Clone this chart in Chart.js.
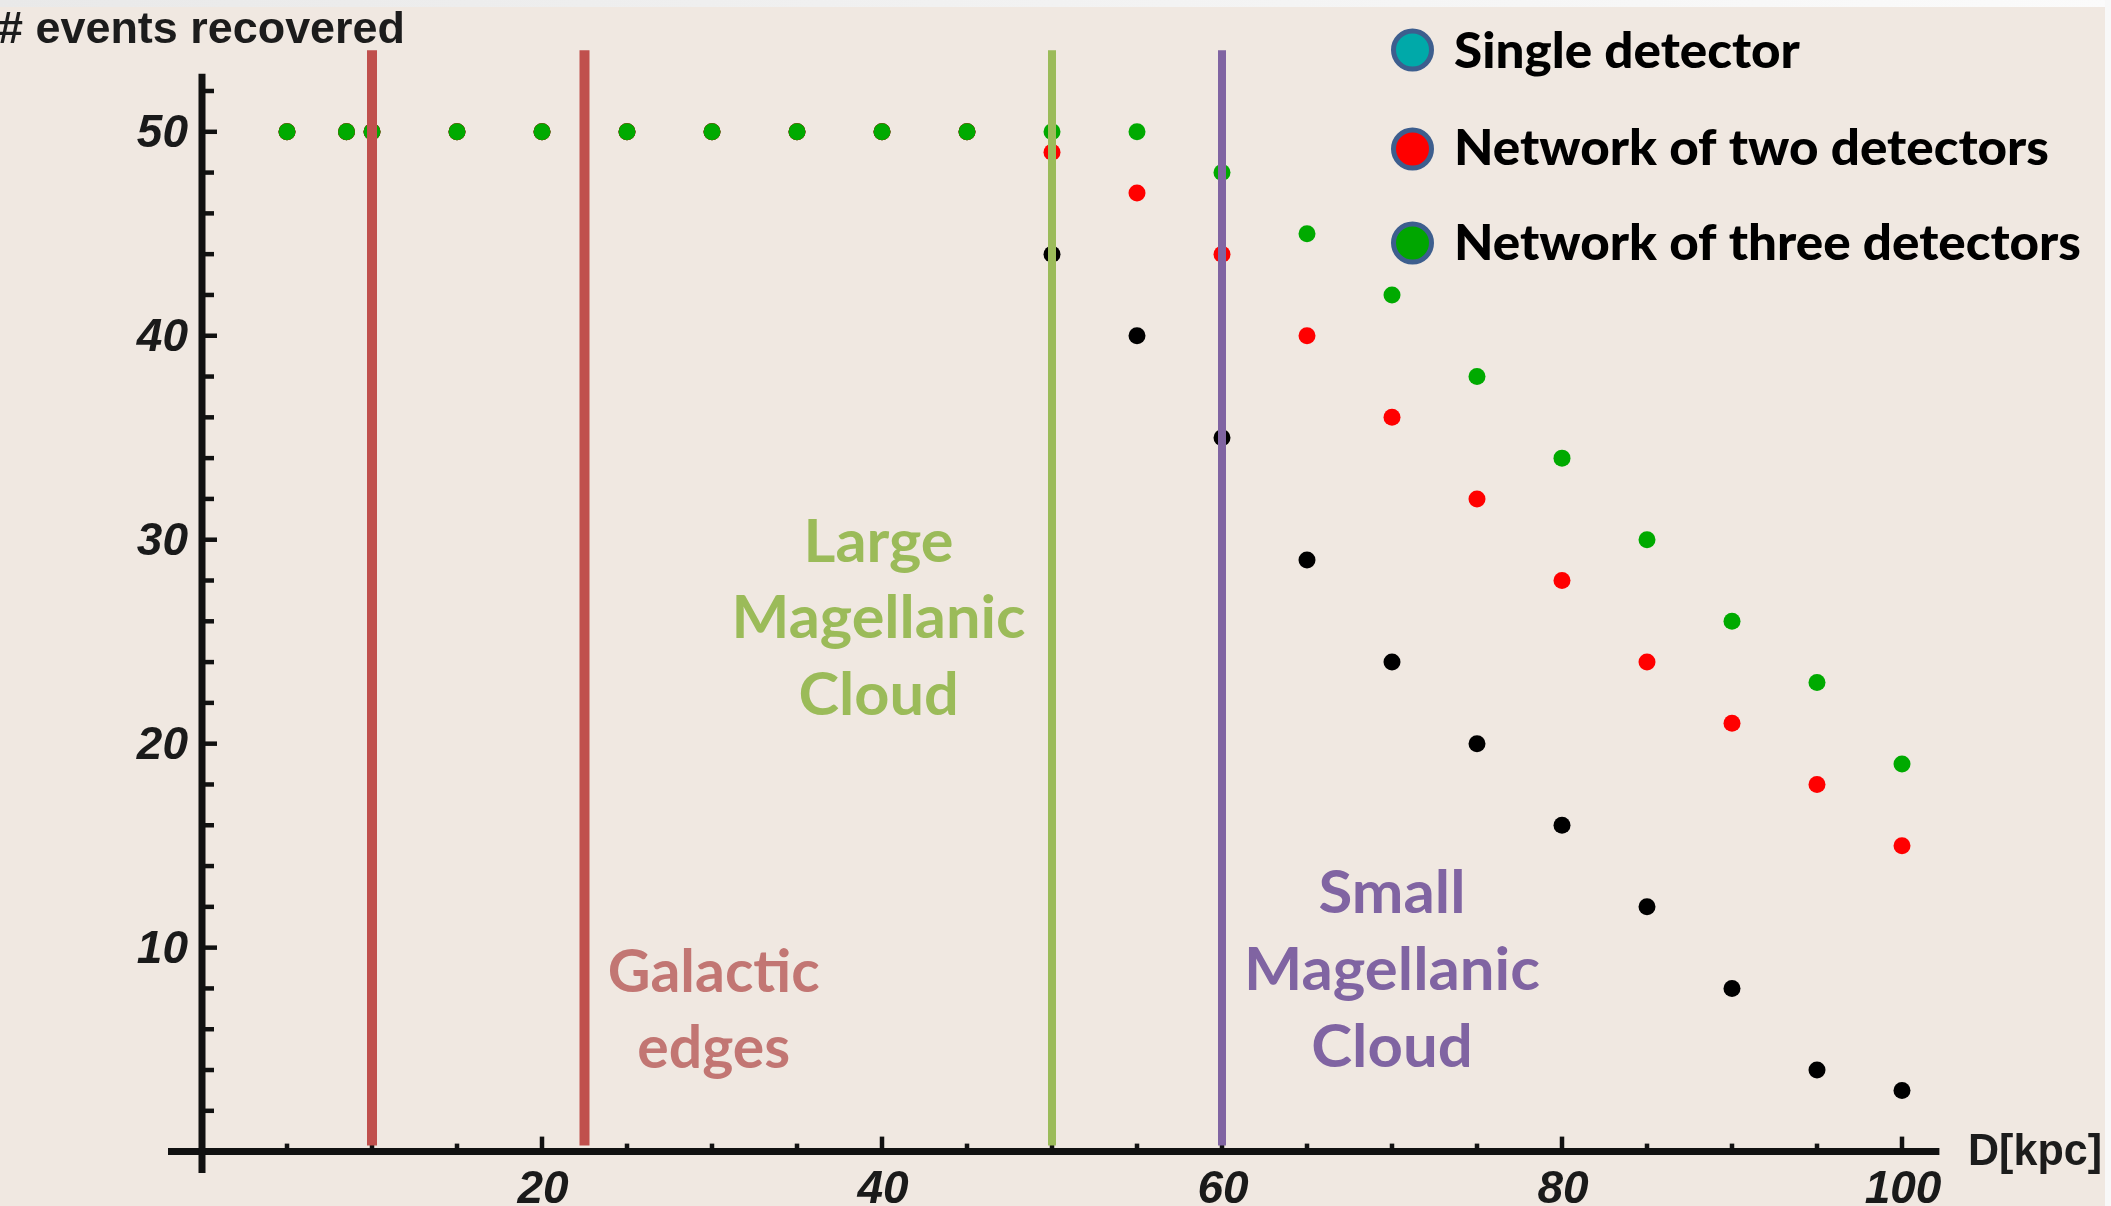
<!DOCTYPE html>
<html><head><meta charset="utf-8">
<script src="https://cdn.jsdelivr.net/npm/chart.js@4.4.1/dist/chart.umd.min.js"></script>
<style>html,body{margin:0;padding:0;background:#f0e8e1;overflow:hidden}canvas{display:block}</style>
</head><body>
<canvas id="c" width="2111" height="1206" style="width:2111px;height:1206px"></canvas>
<script>
// ---- data ----
const distances      = [5, 8.5, 10, 15, 20, 25, 30, 35, 40, 45, 50, 55, 60, 65, 70, 75, 80, 85, 90, 95, 100];
const threeDetectors = [50, 50, 50, 50, 50, 50, 50, 50, 50, 50, 50, 50, 48, 45, 42, 38, 34, 30, 26, 23, 19];
const twoDetectors   = [50, 50, 50, 50, 50, 50, 50, 50, 50, 50, 49, 47, 44, 40, 36, 32, 28, 24, 21, 18, 15];
const singleDetector = [50, 50, 50, 50, 50, 50, 50, 50, 50, 50, 44, 40, 35, 29, 24, 20, 16, 12, 8, 4, 3];
const markerLines    = [10, 22.5, 50, 60];           // Galactic edges, Galactic edges, LMC, SMC
const xMajorTicks    = [20, 40, 60, 80, 100];
const xMinorTicks    = [5, 10, 15, 25, 30, 35, 45, 50, 55, 65, 70, 75, 85, 90, 95];
const yMajorTicks    = [10, 20, 30, 40, 50];
const yMinorTicks    = [2, 4, 6, 8, 12, 14, 16, 18, 22, 24, 26, 28, 32, 34, 36, 38, 42, 44, 46, 48, 52];
const legendLabels   = ['Single detector', 'Network of two detectors', 'Network of three detectors'];
const xAxisTitle = 'D[kpc]';
const yAxisTitle = '# events recovered';

// ---- styles ----
const W = 2111, H = 1206;
const BG = '#f0e8e1';
const markerColors = ['#c0504d', '#c0504d', '#9bbb59', '#8064a2'];
const markerWidths = [10, 10, 8, 8];
const legendFill = ['#00a9a9', '#ff0000', '#00a600'];

function pts(ys) { return distances.map((d, i) => ({ x: d, y: ys[i] })); }

const datasets = [];
markerLines.forEach((mx, i) => {
  datasets.push({
    data: [{ x: mx, y: 0.3 }, { x: mx, y: 54 }],
    showLine: true, borderColor: markerColors[i], borderWidth: markerWidths[i],
    pointRadius: 0, order: 0, borderCapStyle: 'butt'
  });
});
datasets.push({ label: legendLabels[2], data: pts(threeDetectors), backgroundColor: '#00aa00', pointRadius: 8.5, borderWidth: 0, order: 1 });
datasets.push({ label: legendLabels[1], data: pts(twoDetectors), backgroundColor: '#ff0000', pointRadius: 8.5, borderWidth: 0, order: 2 });
datasets.push({ label: legendLabels[0], data: pts(singleDetector), backgroundColor: '#000000', pointRadius: 8.5, borderWidth: 0, order: 3 });

function fitText(ctx, text, x, y, targetW, align, sOverride) {
  const w = ctx.measureText(text).width;
  const s = sOverride || (targetW / w);
  ctx.save();
  ctx.translate(x, y);
  ctx.scale(s, 1);
  ctx.textAlign = align;
  ctx.fillText(text, 0, 0);
  ctx.restore();
  return s;
}
function scaleFor(ctx, text, targetW) { return targetW / ctx.measureText(text).width; }

const decor = {
  id: 'decor',
  beforeDraw(chart) {
    const ctx = chart.ctx;
    ctx.save();
    ctx.fillStyle = BG; ctx.fillRect(0, 0, W, H);
    const g = ctx.createLinearGradient(0, 0, W, 0);
    g.addColorStop(0, '#e9e9e9'); g.addColorStop(1, '#fbfbfb');
    ctx.fillStyle = g; ctx.fillRect(0, 0, W, 7);
    ctx.fillStyle = '#f8f8f8'; ctx.fillRect(W - 6, 0, 6, H);
    ctx.restore();
  },
  beforeDatasetsDraw(chart) {
    const ctx = chart.ctx, xs = chart.scales.x, ys = chart.scales.y;
    const x0 = xs.getPixelForValue(0), y0 = ys.getPixelForValue(0);
    ctx.save();
    ctx.strokeStyle = '#111111';
    ctx.lineWidth = 7;
    ctx.beginPath(); ctx.moveTo(xs.getPixelForValue(-2), y0); ctx.lineTo(xs.getPixelForValue(102.2), y0); ctx.stroke();
    ctx.beginPath(); ctx.moveTo(x0, ys.getPixelForValue(-1.05)); ctx.lineTo(x0, ys.getPixelForValue(52.85)); ctx.stroke();
    ctx.lineWidth = 4.5;
    yMinorTicks.forEach(v => { const p = ys.getPixelForValue(v); ctx.beginPath(); ctx.moveTo(x0 + 3, p); ctx.lineTo(x0 + 12, p); ctx.stroke(); });
    yMajorTicks.forEach(v => { const p = ys.getPixelForValue(v); ctx.beginPath(); ctx.moveTo(x0 + 3, p); ctx.lineTo(x0 + 15, p); ctx.stroke(); });
    xMinorTicks.forEach(v => { const p = xs.getPixelForValue(v); ctx.beginPath(); ctx.moveTo(p, y0 - 3); ctx.lineTo(p, y0 - 8); ctx.stroke(); });
    xMajorTicks.forEach(v => { const p = xs.getPixelForValue(v); ctx.beginPath(); ctx.moveTo(p, y0 - 3); ctx.lineTo(p, y0 - 15); ctx.stroke(); });
    // tick labels
    ctx.fillStyle = '#1a1a1a';
    ctx.font = 'italic bold 46px "Liberation Sans", Arial, sans-serif';
    ctx.textBaseline = 'alphabetic';
    ctx.textAlign = 'right';
    yMajorTicks.forEach(v => { ctx.fillText(String(v), x0 - 14, ys.getPixelForValue(v) + 15); });
    ctx.textAlign = 'center';
    xMajorTicks.forEach(v => { ctx.fillText(String(v), xs.getPixelForValue(v) + 1, 1203); });
    // axis titles
    ctx.font = 'bold 45px "Liberation Sans", Arial, sans-serif';
    ctx.fillStyle = '#1c1c1c';
    fitText(ctx, yAxisTitle, -2, 43, 407, 'left');
    ctx.font = 'bold 44px "Liberation Sans", Arial, sans-serif';
    fitText(ctx, xAxisTitle, 1968, 1165, 134, 'left');
    ctx.restore();
  },
  afterDraw(chart) {
    const ctx = chart.ctx, xs = chart.scales.x, ys = chart.scales.y;
    ctx.save();
    ctx.textBaseline = 'alphabetic';
    // annotations
    ctx.font = 'bold 60px Lato, "Open Sans", sans-serif';
    ctx.fillStyle = '#9bbb59';
    let s = scaleFor(ctx, 'Magellanic', 294);
    const lx = xs.getPixelForValue(39.8);
    fitText(ctx, 'Large', lx, ys.getPixelForValue(28.9), 0, 'center', s);
    fitText(ctx, 'Magellanic', lx, ys.getPixelForValue(25.18), 0, 'center', s);
    fitText(ctx, 'Cloud', lx, ys.getPixelForValue(21.4), 0, 'center', s);

    ctx.fillStyle = '#c27673';
    s = scaleFor(ctx, 'Galactic', 212);
    const gx = xs.getPixelForValue(30.1);
    fitText(ctx, 'Galactic', gx, ys.getPixelForValue(7.83), 0, 'center', s);
    fitText(ctx, 'edges', gx, ys.getPixelForValue(4.1), 0, 'center', s);

    ctx.fillStyle = '#8064a2';
    s = scaleFor(ctx, 'Magellanic', 296);
    const sx = xs.getPixelForValue(70.0);
    fitText(ctx, 'Small', sx, ys.getPixelForValue(11.7), 0, 'center', s);
    fitText(ctx, 'Magellanic', sx, ys.getPixelForValue(7.92), 0, 'center', s);
    fitText(ctx, 'Cloud', sx, ys.getPixelForValue(4.15), 0, 'center', s);

    // legend
    const cy = [50, 149, 243], base = [68, 165, 260];
    ctx.font = '900 50px Lato, "Open Sans", sans-serif';
    ctx.fillStyle = '#000';
    s = scaleFor(ctx, legendLabels[2], 627);
    legendLabels.forEach((t, i) => {
      ctx.beginPath();
      ctx.arc(1412.5, cy[i], 19, 0, Math.PI * 2);
      ctx.fillStyle = legendFill[i]; ctx.fill();
      ctx.lineWidth = 5; ctx.strokeStyle = '#3d5e8e'; ctx.stroke();
      ctx.fillStyle = '#000';
      fitText(ctx, t, 1454, base[i], 0, 'left', s);
    });
    ctx.restore();
  }
};

new Chart(document.getElementById('c'), {
  type: 'scatter',
  data: { datasets },
  options: {
    responsive: false, animation: false, devicePixelRatio: 1,
    layout: { padding: { left: 168, right: 175, top: 40, bottom: 34 } },
    plugins: { legend: { display: false }, tooltip: { enabled: false } },
    scales: {
      x: { type: 'linear', min: -2, max: 102, display: false },
      y: { type: 'linear', min: -1, max: 54.5, display: false }
    }
  },
  plugins: [decor]
});
</script>
</body></html>
